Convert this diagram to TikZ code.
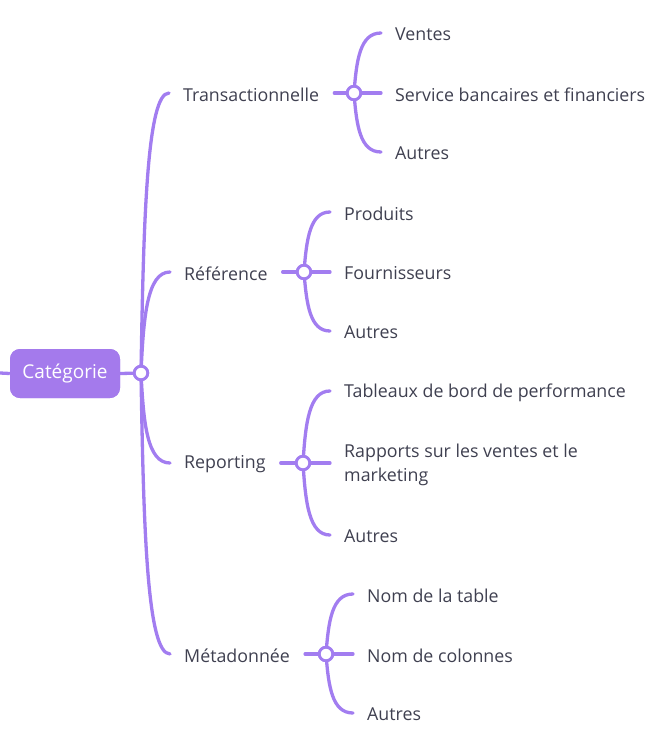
\documentclass[tikz,border=0pt]{standalone}
\usepackage{fontspec}
\setmainfont{Open Sans}
\usetikzlibrary{calc}
\definecolor{mmline}{HTML}{A27DF0}
\definecolor{mmroot}{HTML}{A47AEC}
\definecolor{mmtext}{HTML}{3F4050}
\tikzset{
  link/.style={draw=mmline,line width=3.3pt,line cap=round},
  junc/.style={circle,draw=mmline,line width=2.8pt,fill=white,minimum size=13.5pt,inner sep=0pt},
  lbl/.style={anchor=west,inner sep=0pt,text=mmtext,font=\fontsize{17.8}{24}\selectfont,align=left,yshift=-1.5pt},
  rootbox/.style={rounded corners=10pt,fill=mmroot,text=white,minimum width=110pt,minimum height=49pt,inner sep=0pt,font=\fontsize{19}{22}\selectfont}
}
\newcommand\twig[2]{\draw[link] let \p1=(#1.center), \p2=([xshift=-14pt,yshift=1.5pt]#2.west) in (\p1) .. controls (\x1+2.5pt,{\y1+0.55*(\y2-\y1)}) and (\x1+6pt,\y2) .. (\p2);}
\newcommand\midtwig[2]{\draw[link] (#1.center) -- ([xshift=-14pt]#1.center -| #2.west);}
\begin{document}
\begin{tikzpicture}[x=1pt,y=-1pt]
\useasboundingbox (0,0) rectangle (671,748);
% root
\node[rootbox] (root) at (65,373.5) {Catégorie};
\coordinate (rootin) at (0,373);
\node[junc] (rj) at (141,373) {};
% first level labels
\node[lbl] (t) at (183,93) {Transactionnelle};
\node[lbl] (r) at (184,272) {Référence};
\node[lbl] (p) at (184,463) {Reporting};
\node[lbl] (m) at (184,654) {Métadonnée};
% second-level junctions
\node[junc] (tj) at (354,93) {};
\node[junc] (rj2) at (304,272) {};
\node[junc] (pj) at (303,463) {};
\node[junc] (mj) at (326,654) {};
% leaves
\node[lbl] (t1) at (395,33) {Ventes};
\node[lbl] (t2) at (395,93) {Service bancaires et financiers};
\node[lbl] (t3) at (395,152) {Autres};
\node[lbl] (r1) at (344,212) {Produits};
\node[lbl] (r2) at (344,272) {Fournisseurs};
\node[lbl] (r3) at (344,331) {Autres};
\node[lbl] (p1) at (344,391) {Tableaux de bord de performance};
\node[lbl] (p2) at (344,463) {Rapports sur les ventes et le\\marketing};
\node[lbl] (p3) at (344,535) {Autres};
\node[lbl] (m1) at (367,594) {Nom de la table};
\node[lbl] (m2) at (367,654) {Nom de colonnes};
\node[lbl] (m3) at (367,713) {Autres};
% connectors
\draw[link,line cap=butt] (rootin) -- (root.west);
\draw[link] (root.east) -- (rj.center);
\twig{rj}{t}\twig{rj}{r}\twig{rj}{p}\twig{rj}{m}
\draw[link] ([xshift=15pt]t.east |- tj.center) -- (tj.center);
\draw[link] ([xshift=15pt]r.east |- rj2.center) -- (rj2.center);
\draw[link] ([xshift=15pt]p.east |- pj.center) -- (pj.center);
\draw[link] ([xshift=15pt]m.east |- mj.center) -- (mj.center);
\twig{tj}{t1}\midtwig{tj}{t2}\twig{tj}{t3}
\twig{rj2}{r1}\midtwig{rj2}{r2}\twig{rj2}{r3}
\twig{pj}{p1}\midtwig{pj}{p2}\twig{pj}{p3}
\twig{mj}{m1}\midtwig{mj}{m2}\twig{mj}{m3}
% redraw junctions and root on top
\node[rootbox] at (root.center) {Catégorie};
\foreach \j in {rj,tj,rj2,pj,mj}{\node[junc] at (\j.center) {};}
\end{tikzpicture}
\end{document}
